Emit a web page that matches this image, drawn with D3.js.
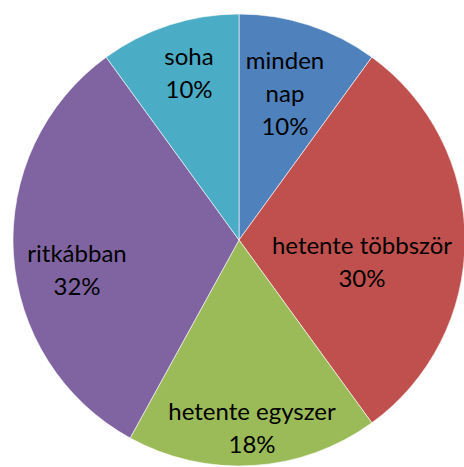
<!DOCTYPE html>
<html lang="hu">
<head>
<meta charset="UTF-8" />
<title>Pie</title>
<script src="https://d3js.org/d3.v7.min.js"></script>
<style>
  body { margin: 0; background: #fff; }
  text { font-family: Lato, "Open Sans", sans-serif; fill: #000; }
</style>
</head>
<body>
<div id="chart"></div>
<script>
const categories = ["minden nap", "hetente többször", "hetente egyszer", "ritkábban", "soha"];
const values = [10, 30, 18, 32, 10];
const colors = ["#4F81BD", "#C0504D", "#9BBB59", "#8064A2", "#4BACC6"];

// label lines (wrapped like the original) and their centres relative to pie centre
const labelLines = [["minden", "nap"], ["hetente többször"], ["hetente egyszer"], ["ritkábban"], ["soha"]];
const labelOffsets = [[46, -146], [123, 22], [13, 188], [-162, 30], [-50, -167]];

const width = 464, height = 467;
const cx = 239, cy = 240, radius = 226;

const svg = d3.select("#chart").append("svg")
  .attr("width", width).attr("height", height);

const g = svg.append("g").attr("transform", `translate(${cx},${cy})`);

const pie = d3.pie().sort(null).value(d => d.value);
const arc = d3.arc().innerRadius(0).outerRadius(radius);

const data = categories.map((c, i) => ({ name: c, value: values[i], i }));
const total = d3.sum(values);

g.selectAll("path")
  .data(pie(data))
  .join("path")
  .attr("d", arc)
  .attr("fill", d => colors[d.data.i])
  .attr("stroke", "#fff")
  .attr("stroke-opacity", 0.6)
  .attr("stroke-width", 1);

const lineH = 33;
const labels = g.selectAll("text.lbl")
  .data(pie(data))
  .join("text")
  .attr("class", "lbl")
  .attr("text-anchor", "middle")
  .attr("font-size", 24);

labels.each(function (d) {
  const i = d.data.i;
  const lines = labelLines[i].concat([Math.round(d.data.value / total * 100) + "%"]);
  const [ox, oy] = labelOffsets[i];
  const y0 = oy - (lines.length - 1) * lineH / 2;
  d3.select(this).selectAll("tspan")
    .data(lines)
    .join("tspan")
    .attr("x", ox)
    .attr("y", (l, k) => y0 + k * lineH)
    .attr("dy", "0.35em")
    .text(l => l);
});
</script>
</body>
</html>
